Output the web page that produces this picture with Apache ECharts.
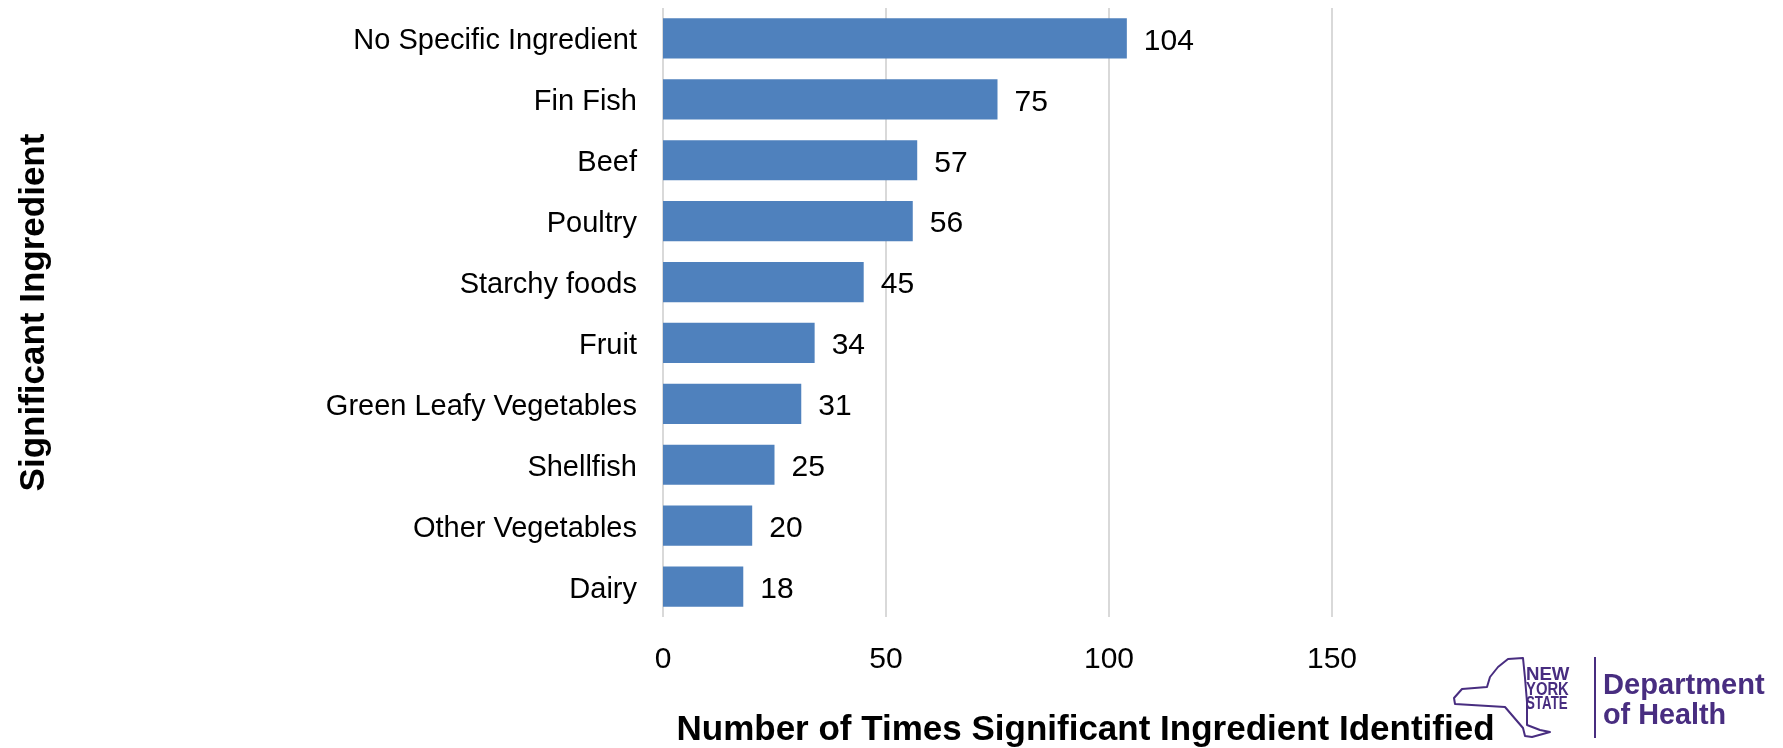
<!DOCTYPE html>
<html>
<head>
<meta charset="utf-8">
<title>Significant Ingredient</title>
<script src="https://cdn.jsdelivr.net/npm/echarts@6/dist/echarts.min.js"></script>
<style>
  html, body { margin: 0; padding: 0; background: #ffffff; }
  #chart { width: 1783px; height: 748px; }
</style>
</head>
<body>
<div id="chart"></div>
<script>
// Ingredient categories, top to bottom
const categories = [
  'No Specific Ingredient',
  'Fin Fish',
  'Beef',
  'Poultry',
  'Starchy foods',
  'Fruit',
  'Green Leafy Vegetables',
  'Shellfish',
  'Other Vegetables',
  'Dairy'
];

// Number of times each ingredient was identified
const counts = [104, 75, 57, 56, 45, 34, 31, 25, 20, 18];

// Value axis ticks
const xTicks = [0, 50, 100, 150];

const FONT = '"Liberation Sans", Arial, Helvetica, sans-serif';
const PURPLE = '#482d80';

// NY State outline for the department logo (page coordinates)
const stateOutline = [
  [1508, 659], [1523, 658], [1525, 678], [1527, 702], [1527, 725],
  [1540, 730], [1550, 732], [1532, 737], [1525, 736], [1523, 728],
  [1505, 707], [1455, 704], [1454, 698], [1462, 689], [1487, 687],
  [1490, 677], [1498, 667]
];

const chart = echarts.init(document.getElementById('chart'), null, { renderer: 'canvas' });

chart.setOption({
  animation: false,
  backgroundColor: '#ffffff',
  textStyle: { fontFamily: FONT },
  grid: {
    left: 663, right: 451, top: 8, bottom: 131,
    containLabel: false,
    outerBoundsMode: 'none'
  },
  xAxis: {
    type: 'value',
    min: xTicks[0],
    max: xTicks[xTicks.length - 1],
    interval: xTicks[1] - xTicks[0],
    axisLine: { show: false },
    axisTick: { show: false },
    splitLine: { show: true, lineStyle: { color: '#d9d9d9', width: 2 } },
    axisLabel: { fontSize: 30, color: '#000000', margin: 28, fontFamily: FONT },
    name: 'Number of Times Significant Ingredient Identified',
    nameLocation: 'middle',
    nameGap: 96,
    nameTextStyle: {
      fontSize: 35, fontWeight: 'bold', color: '#000000', fontFamily: FONT,
      padding: [0, 0, 0, 176]
    }
  },
  yAxis: {
    type: 'category',
    data: categories,
    inverse: true,
    axisLine: { show: false },
    axisTick: { show: false },
    axisLabel: {
      margin: 26,
      formatter: '{c|{value}}',
      rich: {
        c: {
          fontSize: 29, color: '#000000', fontFamily: FONT,
          padding: [6, 0, 0, 0]
        }
      }
    },
    name: 'Significant Ingredient',
    nameLocation: 'middle',
    nameRotate: 90,
    nameGap: 611,
    nameTextStyle: { fontSize: 35, fontWeight: 'bold', color: '#000000', fontFamily: FONT }
  },
  series: [{
    type: 'bar',
    data: counts,
    barCategoryGap: '34%',
    itemStyle: { color: '#4f81bd' },
    label: {
      show: true,
      position: 'right',
      distance: 17,
      offset: [0, 3],
      fontSize: 30,
      color: '#000000',
      fontFamily: FONT
    }
  }],
  graphic: [
    {
      type: 'polygon',
      shape: { points: stateOutline },
      style: { fill: 'none', stroke: PURPLE, lineWidth: 2, lineJoin: 'round' }
    },
    {
      type: 'text', x: 1526, y: 675, scaleX: 0.98,
      style: { text: 'NEW', font: 'bold 19px ' + FONT, fill: PURPLE, textAlign: 'left', textVerticalAlign: 'middle' }
    },
    {
      type: 'text', x: 1526, y: 689.5, scaleX: 0.78,
      style: { text: 'YORK', font: 'bold 19px ' + FONT, fill: PURPLE, textAlign: 'left', textVerticalAlign: 'middle' }
    },
    {
      type: 'text', x: 1526, y: 704, scaleX: 0.7,
      style: { text: 'STATE', font: 'bold 19px ' + FONT, fill: PURPLE, textAlign: 'left', textVerticalAlign: 'middle' }
    },
    {
      type: 'line',
      shape: { x1: 1595, y1: 657, x2: 1595, y2: 738 },
      style: { stroke: PURPLE, lineWidth: 2 }
    },
    {
      type: 'text', x: 1603, y: 686, scaleX: 0.97,
      style: { text: 'Department', font: 'bold 30px ' + FONT, fill: PURPLE, textAlign: 'left', textVerticalAlign: 'middle' }
    },
    {
      type: 'text', x: 1603, y: 716, scaleX: 0.96,
      style: { text: 'of Health', font: 'bold 30px ' + FONT, fill: PURPLE, textAlign: 'left', textVerticalAlign: 'middle' }
    }
  ]
});
</script>
</body>
</html>
